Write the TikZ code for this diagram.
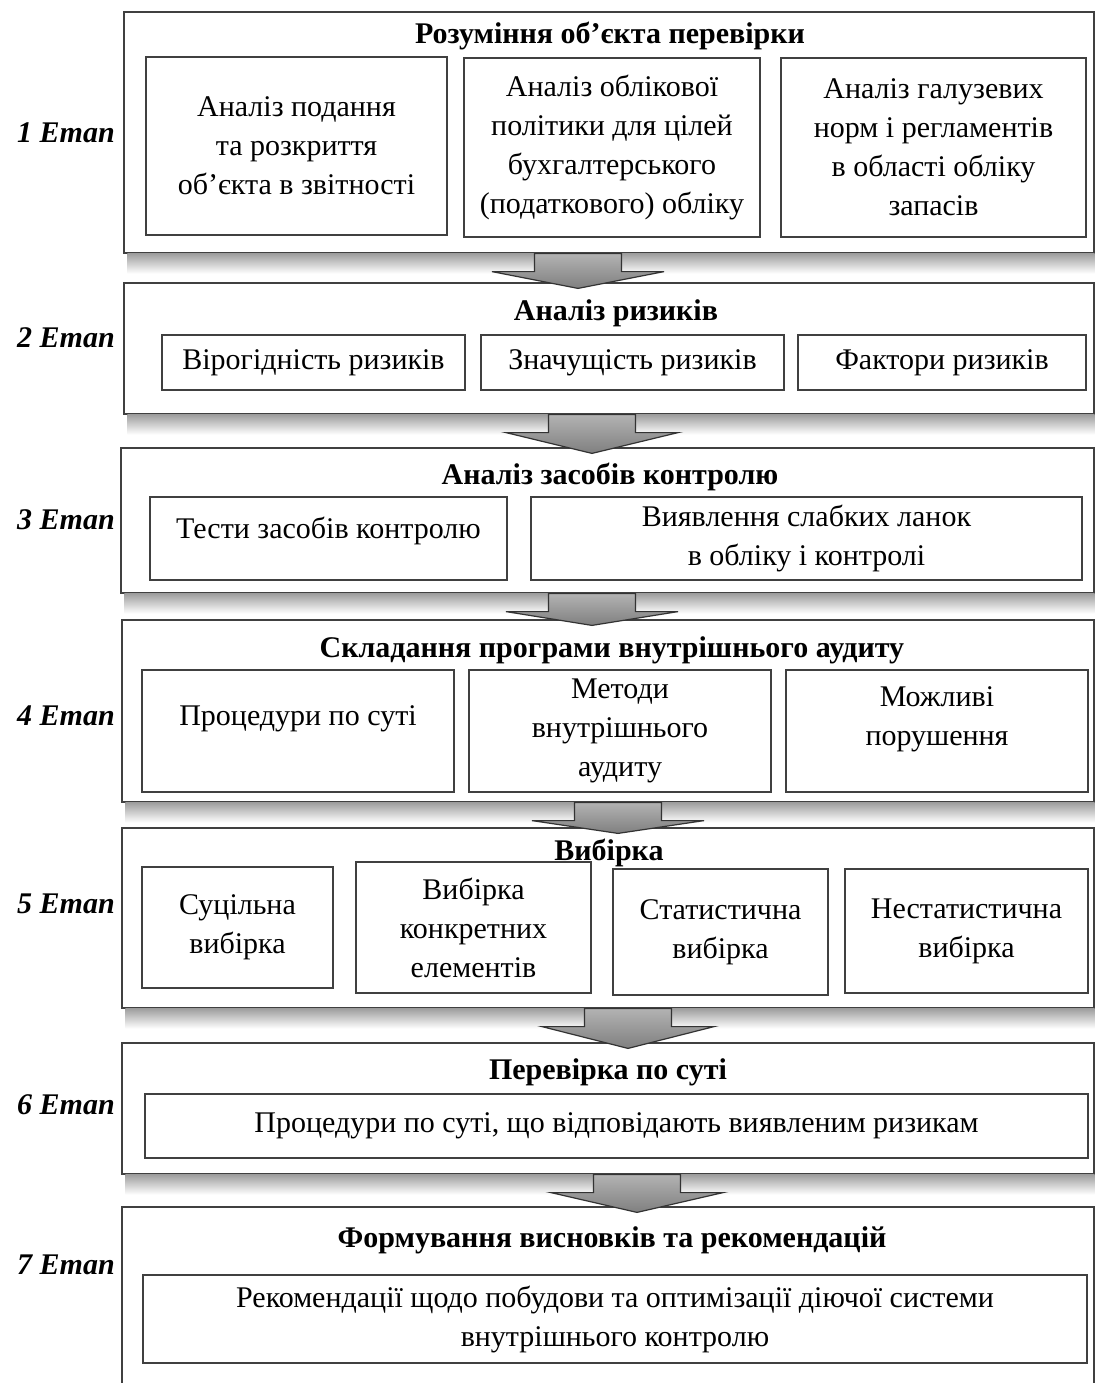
\documentclass[tikz,border=0pt]{standalone}
\usepackage{fontspec}
\setmainfont{Liberation Serif}
\usetikzlibrary{calc,fit}

\newcommand{\diagfont}{\fontsize{15}{19.5}\selectfont}

\tikzset{
  stagebox/.style={draw=black!75, line width=0.6pt, fill=white, inner sep=0pt},
  itembox/.style={draw=black!75, line width=0.6pt, fill=white, inner sep=0pt},
  itemtext/.style={align=center, inner sep=0pt},
  stagetitle/.style={font=\diagfont\bfseries},
  stagelabel/.style={font=\diagfont\bfseries\itshape},
  stageshadow/.style={top color=black!38, bottom color=white, draw=none},
  stagearrow/.style={draw=black!80, line width=0.6pt, top color=black!30, bottom color=black!50}
}

% frame of one item plus its centred text
\newcommand{\itembox}[5][0]{%
  \node[itembox, fit={#3 #4}] (#2) {};
  \node[itemtext, yshift=#1*0.5pt] (#2-t) at (#2.center) {#5};
}

% block arrow from the bottom of one stage to the top of the next one
\newcommand{\stagearrow}[3]{%
  \coordinate (aT) at (#3,0 |- #1.south);
  \coordinate (aB) at (#3,0 |- #2.north);
  \path[stagearrow] ($(aT)+(-43.5,0)$) -- ($(aT)+(43.5,0)$) -- ($(aT)+(43.5,18)$)
    -- ($(aT)+(86,18)$) -- ($(aB)+(0,6)$) -- ($(aT)+(-86,18)$)
    -- ($(aT)+(-43.5,18)$) -- cycle;
}

\begin{document}
\begin{tikzpicture}[x=0.5pt, y=-0.5pt, font=\diagfont]
  \useasboundingbox (0,0) rectangle (1097,1383);
  \clip (0,0) rectangle (1097,1383);

  % stage frames
  \node[stagebox, fit={(124,12) (1094,253)}] (st1) {};
  \node[stagebox, fit={(124,283) (1094,414)}] (st2) {};
  \node[stagebox, fit={(121,448) (1094,593)}] (st3) {};
  \node[stagebox, fit={(122,620) (1094,802)}] (st4) {};
  \node[stagebox, fit={(122,828) (1094,1008)}] (st5) {};
  \node[stagebox, fit={(122,1043) (1094,1174)}] (st6) {};
  \node[stagebox, fit={(122,1207) (1094,1400)}] (st7) {};

  % shadows under the frames
  \foreach \s in {st1,st2,st3,st4,st5,st6}
    \shade[stageshadow] ($(\s.south west)+(4,0)$) rectangle ($(\s.south east)+(0,20)$);

  % stage labels
  \node[stagelabel] (lab1) at (66,133) {1 Етап};
  \node[stagelabel] (lab2) at (66,338) {2 Етап};
  \node[stagelabel] (lab3) at (66,520) {3 Етап};
  \node[stagelabel] (lab4) at (66,716) {4 Етап};
  \node[stagelabel] (lab5) at (66,904) {5 Етап};
  \node[stagelabel] (lab6) at (66,1105) {6 Етап};
  \node[stagelabel] (lab7) at (66,1265) {7 Етап};

  % 1 -- understanding of the object
  \node[stagetitle] (t1) at (610,36) {Розуміння об’єкта перевірки};
  \itembox{a1}{(146,57)}{(447,235)}{Аналіз подання\\та розкриття\\об’єкта в звітності}
  \itembox{a2}{(464,58)}{(760,237)}{Аналіз облікової\\політики для цілей\\бухгалтерського\\(податкового) обліку}
  \itembox{a3}{(781,58)}{(1086,237)}{Аналіз галузевих\\норм і регламентів\\в області обліку\\запасів}

  % 2 -- risks
  \node[stagetitle] (t2) at (616,313) {Аналіз ризиків};
  \itembox{b1}{(162,335)}{(465,390)}{Вірогідність ризиків}
  \itembox{b2}{(481,335)}{(784,390)}{Значущість ризиків}
  \itembox{b3}{(798,335)}{(1086,390)}{Фактори ризиків}

  % 3 -- controls
  \node[stagetitle] (t3) at (610,477) {Аналіз засобів контролю};
  \itembox[8]{c1}{(150,497)}{(507,580)}{Тести засобів контролю}
  \itembox{c2}{(531,497)}{(1082,580)}{Виявлення слабких ланок\\в обліку і контролі}

  % 4 -- audit programme
  \node[stagetitle] (t4) at (612,650) {Складання програми внутрішнього аудиту};
  \itembox[12]{d1}{(142,670)}{(454,792)}{Процедури по суті}
  \itembox{d2}{(469,670)}{(771,792)}{Методи\\внутрішнього\\аудиту}
  \itembox[12]{d3}{(786,670)}{(1088,792)}{Можливі\\порушення}

  % 5 -- sampling
  \node[stagetitle] (t5) at (609,853) {Вибірка};
  \itembox{e1}{(142,867)}{(333,988)}{Суцільна\\вибірка}
  \itembox{e2}{(356,862)}{(591,993)}{Вибірка\\конкретних\\елементів}
  \itembox{e3}{(613,869)}{(828,995)}{Статистична\\вибірка}
  \itembox{e4}{(845,869)}{(1088,993)}{Нестатистична\\вибірка}

  % 6 -- substantive testing
  \node[stagetitle] (t6) at (608,1072) {Перевірка по суті};
  \itembox{f1}{(145,1094)}{(1088,1158)}{Процедури по суті, що відповідають виявленим ризикам}

  % 7 -- conclusions
  \node[stagetitle] (t7) at (612,1240) {Формування висновків та рекомендацій};
  \itembox{g1}{(143,1275)}{(1087,1363)}{Рекомендації щодо побудови та оптимізації діючої системи\\внутрішнього контролю}

  % arrows between stages
  \stagearrow{st1}{st2}{578}
  \stagearrow{st2}{st3}{592}
  \stagearrow{st3}{st4}{592}
  \stagearrow{st4}{st5}{618}
  \stagearrow{st5}{st6}{628}
  \stagearrow{st6}{st7}{637}
\end{tikzpicture}
\end{document}
